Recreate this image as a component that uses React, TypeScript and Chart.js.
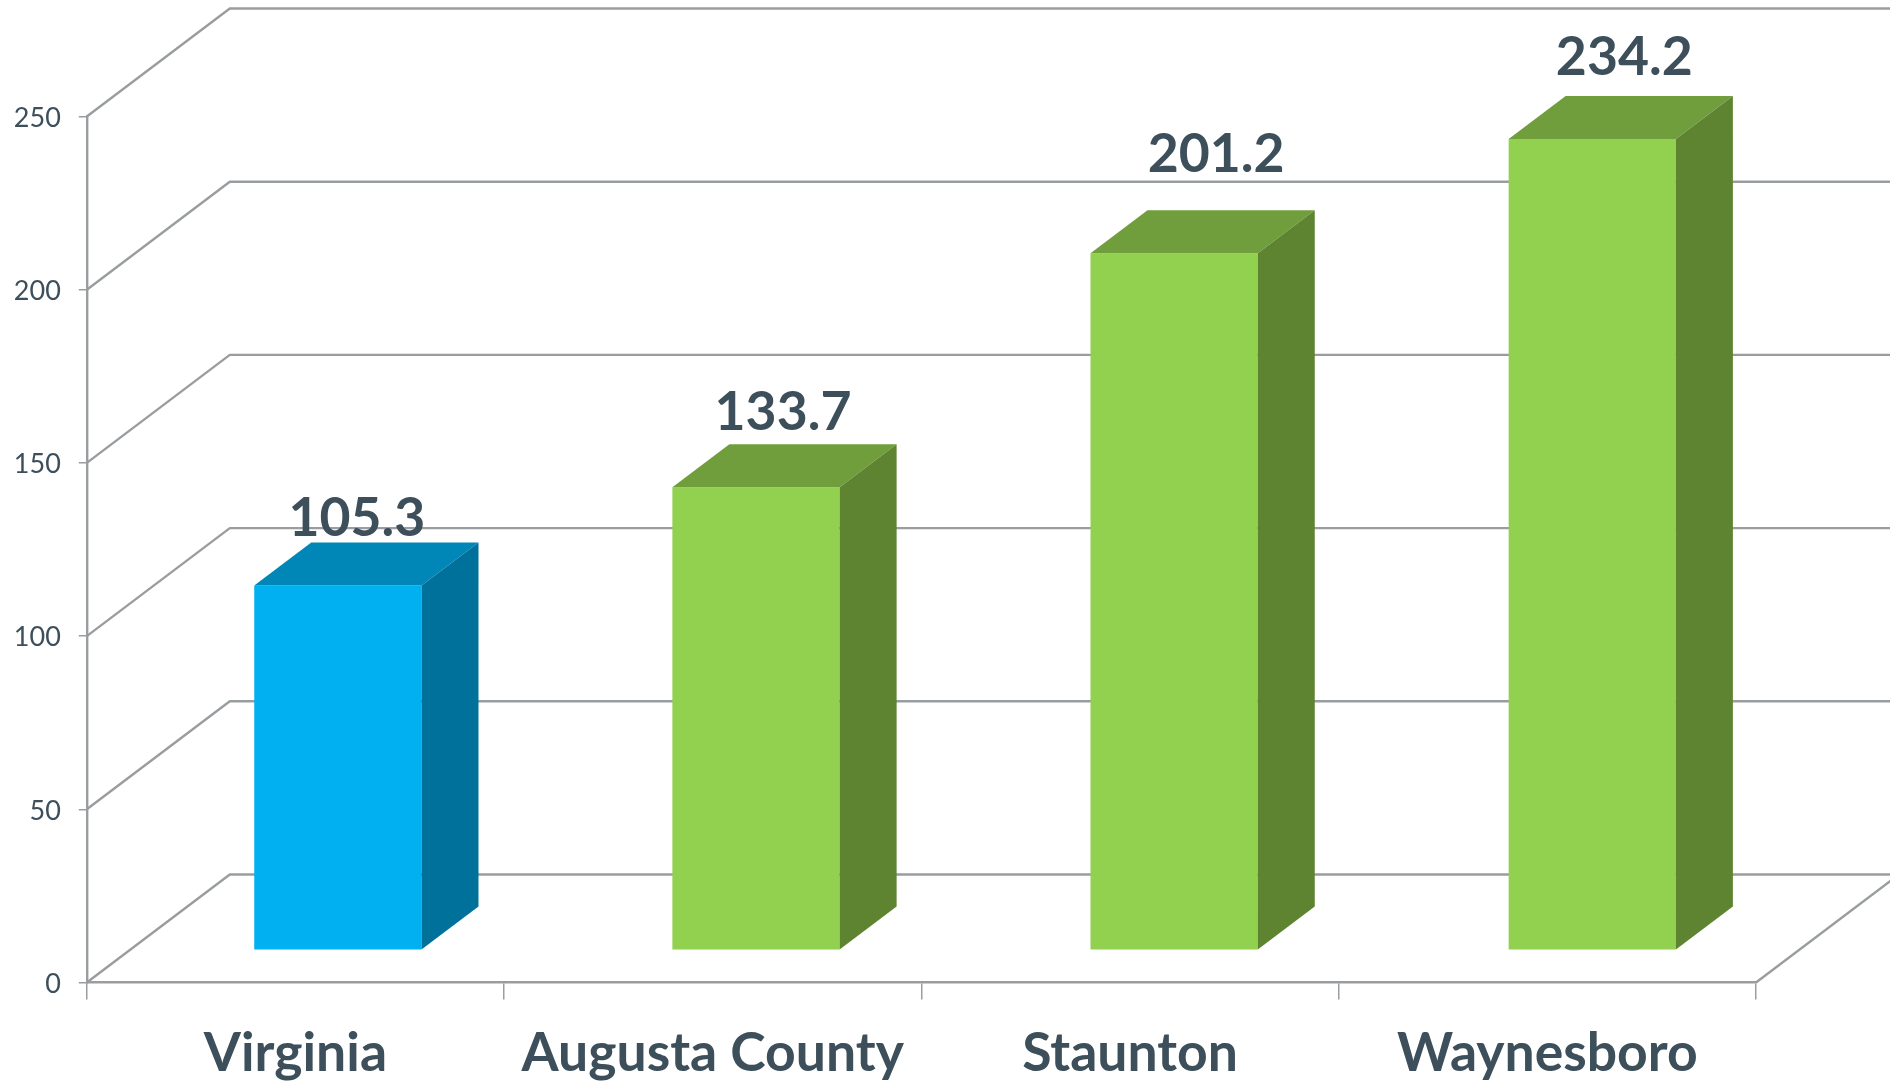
import React, { useEffect, useRef } from "react";
import { Chart, registerables } from "chart.js";

Chart.register(...registerables);

const categories = ["Virginia", "Augusta County", "Staunton", "Waynesboro"];
const values = [105.3, 133.7, 201.2, 234.2];
const valueTicks = [0, 50, 100, 150, 200, 250];

const frontColors = ["#00B0F0", "#92D050", "#92D050", "#92D050"];
const topColors = ["#0086B7", "#709E3C", "#709E3C", "#709E3C"];
const sideColors = ["#00719B", "#5E8431", "#5E8431", "#5E8431"];

const TEXT = "#3D4F5A";
const LINE = "#9A9D9F";
const FONT = "Lato, 'Open Sans', sans-serif";

// 3D projection of the plot, in pixels
const wallDepth = { x: 143, y: 108 };
const barShift = { x: 42, y: -32.2 };
const barSpread = 1.002;
const barDepth = { x: 57, y: 43 };
const labelShift = [
  { x: 19, y: -67 },
  { x: 27, y: -74 },
  { x: 42, y: -99 },
  { x: 32, y: -81 },
];

const threeD = {
  id: "threeD",
  beforeDatasetsDraw(chart: any) {
    const { ctx, chartArea } = chart;
    const y = chart.scales.y;
    ctx.save();
    ctx.strokeStyle = LINE;
    ctx.lineWidth = 2.4;
    ctx.lineJoin = "round";
    for (const v of valueTicks) {
      const py = y.getPixelForValue(v);
      ctx.beginPath();
      ctx.moveTo(chartArea.left, py);
      ctx.lineTo(chartArea.left + wallDepth.x, py - wallDepth.y);
      ctx.lineTo(chart.width, py - wallDepth.y);
      ctx.stroke();
    }
    const floorY = y.getPixelForValue(0);
    ctx.beginPath();
    ctx.moveTo(chartArea.right, floorY);
    ctx.lineTo(chartArea.right + wallDepth.x, floorY - wallDepth.y);
    ctx.stroke();
    ctx.restore();

    // the bars themselves stand further back on the floor
    ctx.save();
    ctx.translate(barShift.x + chartArea.left * (1 - barSpread), barShift.y);
    ctx.scale(barSpread, 1);
  },
  afterDatasetsDraw(chart: any) {
    const { ctx, chartArea } = chart;
    ctx.restore();
    const bars = chart.getDatasetMeta(0).data;
    const mapX = (px: number) => chartArea.left + (px - chartArea.left) * barSpread + barShift.x;
    bars.forEach((bar: any, i: number) => {
      const half = bar.width / 2;
      const l = mapX(bar.x - half);
      const r = mapX(bar.x + half);
      const t = bar.y + barShift.y;
      const b = bar.base + barShift.y;
      ctx.save();
      ctx.fillStyle = topColors[i];
      ctx.beginPath();
      ctx.moveTo(l, t);
      ctx.lineTo(l + barDepth.x, t - barDepth.y);
      ctx.lineTo(r + barDepth.x, t - barDepth.y);
      ctx.lineTo(r, t);
      ctx.closePath();
      ctx.fill();
      ctx.fillStyle = sideColors[i];
      ctx.beginPath();
      ctx.moveTo(r, t);
      ctx.lineTo(r + barDepth.x, t - barDepth.y);
      ctx.lineTo(r + barDepth.x, b - barDepth.y);
      ctx.lineTo(r, b);
      ctx.closePath();
      ctx.fill();
      ctx.fillStyle = TEXT;
      ctx.font = `bold 53.5px ${FONT}`;
      ctx.textAlign = "center";
      ctx.textBaseline = "middle";
      ctx.fillText(
        values[i].toFixed(1),
        mapX(bar.x) + labelShift[i].x,
        t + labelShift[i].y
      );
      ctx.restore();
    });
  },
};

export default function App() {
  const ref = useRef<HTMLCanvasElement>(null);
  useEffect(() => {
    const chart = new Chart(ref.current as HTMLCanvasElement, {
      type: "bar",
      plugins: [threeD],
      data: {
        labels: categories,
        datasets: [
          {
            data: values,
            backgroundColor: frontColors,
            borderWidth: 0,
            barPercentage: 0.4,
            categoryPercentage: 1,
            clip: false,
          } as any,
        ],
      },
      options: {
        animation: false,
        responsive: false,
        layout: { padding: { top: 116.5, right: 134, left: 0, bottom: 0 } },
        plugins: { legend: { display: false }, tooltip: { enabled: false } },
        scales: {
          x: {
            afterFit: (s: any) => {
              s.height = 98.5;
            },
            grid: {
              offset: true,
              drawOnChartArea: false,
              color: LINE,
              tickLength: 17,
              lineWidth: 1.5,
            },
            border: { color: LINE, width: 2.4 },
            ticks: {
              color: TEXT,
              font: { family: FONT, size: 53.5, weight: "bold" },
              padding: 22,
              maxRotation: 0,
              autoSkip: false,
            },
          },
          y: {
            min: 0,
            max: 250,
            afterFit: (s: any) => {
              s.width = 86.8;
            },
            afterBuildTicks: (s: any) => {
              s.ticks = valueTicks.map((value) => ({ value }));
            },
            grid: { drawOnChartArea: false, color: LINE, tickLength: 8, lineWidth: 1.5 },
            border: { color: LINE, width: 2.4 },
            ticks: {
              color: TEXT,
              font: { family: FONT, size: 27 },
              padding: 18,
              labelOffset: 1.5,
            },
          },
        },
      },
    } as any);
    return () => chart.destroy();
  }, []);
  return (
    <div style={{ position: "absolute", left: 0, top: 0, width: 1890, height: 1081, background: "#fff" }}>
      <canvas ref={ref} width={1890} height={1081} style={{ display: "block" }} />
    </div>
  );
}
